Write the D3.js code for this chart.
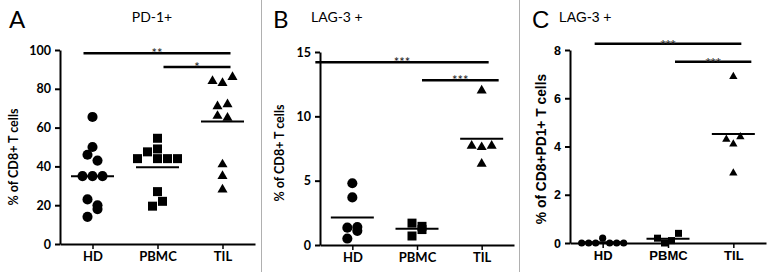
<!DOCTYPE html>
<html>
<head>
<meta charset="utf-8">
<script src="https://cdn.jsdelivr.net/npm/d3@7"></script>
<style>
    body { margin: 0; background: #fff; }
    svg { display: block; }
</style>
</head>
<body>
<svg id="chart" width="776" height="272"></svg>
<script>
const groups = ["HD", "PBMC", "TIL"];

// Panel A: PD-1+ (% of CD8+ T cells), in table order
const pd1HD = [65.5, 50, 46, 43, 35, 35, 35, 23, 20, 14, 18];
const pd1PBMC = [54.5, 49, 44, 47.5, 44, 44, 44, 27, 19.5, 22];
const pd1TIL = [84, 83, 86, 71, 72, 66, 65, 41, 35, 28];

// Panel B: LAG-3+ (% of CD8+ T cells)
const lag3HD = [4.8, 3.7, 1.35, 1.4, 0.5, 1.1];
const lag3PBMC = [1.7, 1.45, 0.7, 1.2];
const lag3TIL = [12, 7.7, 7.6, 7.7, 6.3];

// Panel C: LAG-3+ (% of CD8+PD1+ T cells)
const dpHD = [0, 0, 0, 0.2, 0, 0, 0];
const dpPBMC = [0.2, 0, 0.1, 0.4];
const dpTIL = [6.9, 4.3, 4.1, 4.4, 2.9];

const yTicksA = [0, 20, 40, 60, 80, 100];
const yTicksB = [0, 5, 10, 15];
const yTicksC = [0, 2, 4, 6, 8];

// significance brackets: compared groups, height (data units), stars
const sigPairs = [["HD", "TIL"], ["PBMC", "TIL"]];
const sigLevelsA = [98.3, 91.2];
const sigLevelsB = [14.2, 12.8];
const sigLevelsC = [8.26, 7.51];
const sigStarsA = ["**", "*"];
const sigStarsB = ["***", "***"];
const sigStarsC = ["***", "***"];

const symbols = [d3.symbolCircle, d3.symbolSquare, d3.symbolTriangle];

const panels = [
    {
        letter: "A", title: "PD-1+", yLabel: "% of CD8+ T cells",
        series: [pd1HD, pd1PBMC, pd1TIL], yMax: 100, yTicks: yTicksA,
        sigLevels: sigLevelsA, sigStars: sigStarsA,
        x0: 60, x1: 255, yBottom: 244, yTop: 50,
        font: "Lato, 'Open Sans', sans-serif",
        tickSize: "12.5px", catSize: "13px", labelSize: "12.5px",
        letterX: 9, titleX: 152, titleAnchor: "middle", yLabelX: 18, yLabelY: 157,
        sizes: [80, 81, 44], step: 10, binH: 9,
        sigOver: [[-9, 8], [6, 8]]
    },
    {
        letter: "B", title: "LAG-3 +", yLabel: "% of CD8+ T cells",
        series: [lag3HD, lag3PBMC, lag3TIL], yMax: 15, yTicks: yTicksB,
        sigLevels: sigLevelsB, sigStars: sigStarsB,
        x0: 320, x1: 514, yBottom: 245, yTop: 52,
        font: "Lato, 'Open Sans', sans-serif",
        tickSize: "12.5px", catSize: "13px", labelSize: "12.5px",
        letterX: 273, titleX: 311, titleAnchor: "start", yLabelX: 284, yLabelY: 153,
        sizes: [80, 81, 44], step: 10, binH: 9,
        sigOver: [[-37, 7], [5, 17]]
    },
    {
        letter: "C", title: "LAG-3 +", yLabel: "% of CD8+PD1+ T cells",
        series: [dpHD, dpPBMC, dpTIL], yMax: 8, yTicks: yTicksC,
        sigLevels: sigLevelsC, sigStars: sigStarsC,
        x0: 570, x1: 766, yBottom: 243, yTop: 50,
        font: "'Liberation Sans', Arial, sans-serif",
        tickSize: "12.5px", catSize: "13px", labelSize: "13.8px",
        letterX: 532, titleX: 559, titleAnchor: "start", yLabelX: 546, yLabelY: 149,
        sizes: [40, 49, 30], step: 7, binH: 10,
        sigOver: [[-8, 8], [7, 18]]
    }
];

const svg = d3.select("#chart");

// panel dividers
[261, 519].forEach(x => {
    svg.append("line")
        .attr("x1", x + 0.5).attr("x2", x + 0.5)
        .attr("y1", 0).attr("y2", 272)
        .attr("stroke", "#b0b0b0")
        .attr("stroke-width", 1);
});

// GraphPad-like spreading: points whose pixel heights fall in one bin are laid side by side
function spread(values, y, step, binH) {
    const idx = values.map((v, i) => i).sort((a, b) => values[a] - values[b]);
    const offsets = new Array(values.length).fill(0);
    let i = 0;
    while (i < idx.length) {
        const start = y(values[idx[i]]);
        const bin = [];
        while (i < idx.length && start - y(values[idx[i]]) < binH) {
            bin.push(idx[i]);
            i++;
        }
        bin.sort((a, b) => a - b);
        bin.forEach((k, j) => { offsets[k] = (j - (bin.length - 1) / 2) * step; });
    }
    return offsets;
}

function drawPanel(p) {
    const g = svg.append("g").style("font-family", p.font);

    const x = d3.scalePoint()
        .domain(groups)
        .range([p.x0, p.x1])
        .padding(0.5);

    const y = d3.scaleLinear()
        .domain([0, p.yMax])
        .range([p.yBottom, p.yTop]);

    // Y axis
    const yAxis = g.append("g")
        .attr("transform", `translate(${p.x0},0)`)
        .call(d3.axisLeft(y).tickValues(p.yTicks).tickSize(5).tickPadding(4).tickSizeOuter(0));
    yAxis.select(".domain").attr("stroke-width", 2);
    yAxis.selectAll(".tick line").attr("stroke-width", 2);
    yAxis.selectAll("text")
        .style("font-family", p.font)
        .style("font-size", p.tickSize)
        .style("font-weight", "bold");

    // X axis
    const xAxis = g.append("g")
        .attr("transform", `translate(0,${p.yBottom})`)
        .call(d3.axisBottom(x).tickSize(5).tickPadding(3).tickSizeOuter(0));
    xAxis.select(".domain").attr("stroke-width", 2);
    xAxis.selectAll(".tick line").attr("stroke-width", 1.5);
    xAxis.selectAll("text")
        .style("font-family", p.font)
        .style("font-size", p.catSize)
        .style("font-weight", "bold");

    // points
    p.series.forEach((vals, gi) => {
        const offs = spread(vals, y, p.step, p.binH);
        const sym = d3.symbol().type(symbols[gi]).size(p.sizes[gi]);
        g.selectAll(null)
            .data(vals)
            .enter()
            .append("path")
            .attr("d", sym)
            .attr("transform", (d, i) => `translate(${x(groups[gi]) + offs[i]},${y(d)})`)
            .attr("fill", "#000");

        // mean line
        const m = d3.mean(vals);
        g.append("line")
            .attr("x1", x(groups[gi]) - 21.5)
            .attr("x2", x(groups[gi]) + 21.5)
            .attr("y1", y(m)).attr("y2", y(m))
            .attr("stroke", "#000")
            .attr("stroke-width", 2);
    });

    // significance brackets
    sigPairs.forEach((pair, si) => {
        const yy = y(p.sigLevels[si]);
        const xa = x(pair[0]) + p.sigOver[si][0];
        const xb = x(pair[1]) + p.sigOver[si][1];
        g.append("line")
            .attr("x1", xa).attr("x2", xb)
            .attr("y1", yy).attr("y2", yy)
            .attr("stroke", "#000")
            .attr("stroke-width", 2.5);
        g.append("text")
            .attr("x", (xa + xb) / 2)
            .attr("y", yy + 5)
            .attr("text-anchor", "middle")
            .style("font-size", "13px")
            .style("fill", "#222")
            .text(p.sigStars[si]);
    });

    // y axis label
    g.append("text")
        .attr("transform", `translate(${p.yLabelX},${p.yLabelY}) rotate(-90)`)
        .attr("text-anchor", "middle")
        .style("font-size", p.labelSize)
        .style("font-weight", "bold")
        .text(p.yLabel);

    // panel letter and title
    g.append("text")
        .attr("x", p.letterX)
        .attr("y", 28)
        .style("font-size", "24px")
        .text(p.letter);

    g.append("text")
        .attr("x", p.titleX)
        .attr("y", 22)
        .attr("text-anchor", p.titleAnchor)
        .style("font-size", "14px")
        .text(p.title);
}

panels.forEach(drawPanel);
</script>
</body>
</html>
